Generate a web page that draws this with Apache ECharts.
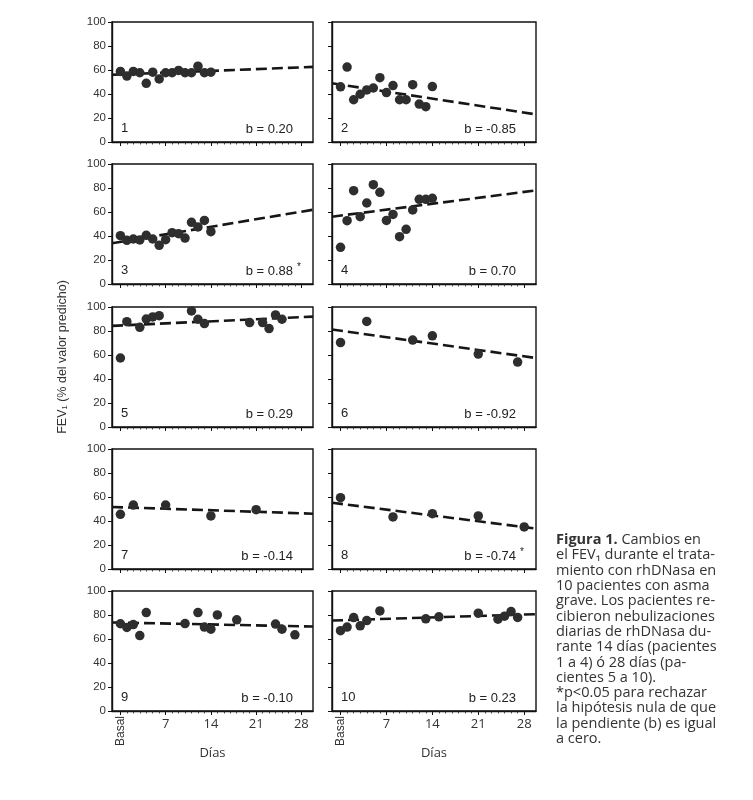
<!DOCTYPE html>
<html>
<head>
<meta charset="utf-8">
<script src="https://cdn.jsdelivr.net/npm/echarts@6/dist/echarts.min.js"></script>
<style>
html,body{margin:0;padding:0;background:#fff;}
#chart{width:753px;height:800px;}
</style>
</head>
<body>
<div id="chart"></div>
<script>
// ---------- data ----------
const panelNames = ['1','2','3','4','5','6','7','8','9','10'];
const days1 = [0,1,2,3,4,5,6,7,8,9,10,11,12,13,14];
const vals1 = [58.8,54.9,58.8,57.7,48.9,58.2,52.5,57.7,57.7,59.6,57.7,57.7,63.2,57.7,58.2];
const days2 = [0,1,2,3,4,5,6,7,8,9,10,11,12,13,14];
const vals2 = [46,62.4,35.2,39.8,43.4,45,53.6,41.2,47,35.2,35.2,47.8,31.6,29.4,46.2];
const days3 = [0,1,2,3,4,5,6,7,8,9,10,11,12,13,14];
const vals3 = [40.3,36.4,37.5,36.7,40.6,37.5,32.2,36.9,42.8,41.9,38.3,51.4,47.5,53,43.6];
const days4 = [0,1,2,3,4,5,6,7,8,9,10,11,12,13,14];
const vals4 = [30.6,52.8,77.8,56.1,67.5,82.8,76.4,53,58,39.4,45.6,61.7,70.6,70.6,71.4];
const days5 = [0,1,3,4,5,6,11,12,13,20,22,23,24,25];
const vals5 = [57.5,87.8,83.1,90,91.7,92.8,96.7,89.8,86.2,87,87,82,93.4,89.8];
const days6 = [0,4,11,14,21,27];
const vals6 = [70.4,88,72.4,76,60.8,54.1];
const days7 = [0,2,7,14,21];
const vals7 = [45.6,53.3,53.3,44.2,49.4];
const days8 = [0,8,14,21,28];
const vals8 = [59.4,43.4,46.1,44.2,35.1];
const days9 = [0,1,2,3,4,10,12,13,14,15,18,24,25,27];
const vals9 = [72.7,69.6,72,62.9,82,72.9,82,69.9,68.2,80.1,76,72.4,68.2,63.5];
const days10 = [0,1,2,3,4,6,13,15,21,24,25,26,27];
const vals10 = [66.9,69.9,77.9,71,75.4,83.4,76.8,78.5,81.5,76.5,79,82.9,78];

// dashed regression lines: value read at the left (XMIN) and right (XMAX) edge of each panel
const XMIN = -1.3, XMAX = 29.8;
const trendStart = [56,48.9,33.9,56.1,84.3,81.2,51.7,55.2,73.8,75.4];
const trendEnd   = [62.6,23,61.9,78,92,57.5,46.1,33.7,70.4,80.7];
const slopeLabels = ['b = 0.20','b = -0.85','b = 0.88','b = 0.70','b = 0.29','b = -0.92','b = -0.14','b = -0.74','b = -0.10','b = 0.23'];
const significant = [false,false,true,false,false,false,false,true,false,false];

const yTicks = [0,20,40,60,80,100];
const xMajorTicks = [0,7,14,21,28];
const xTickLabels = ['Basal','7','14','21','28'];
const xAxisTitle = 'Días';
const yAxisTitle = 'FEV₁ (% del valor predicho)';
const captionLines = [
 '{b|Figura 1.} Cambios en',
 'el FEV₁ durante el trata-',
 'miento con rhDNasa en',
 '10 pacientes con asma',
 'grave. Los pacientes re-',
 'cibieron nebulizaciones',
 'diarias de rhDNasa du-',
 'rante 14 días (pacientes',
 '1 a 4) ó 28 días (pa-',
 'cientes 5 a 10).',
 '*p<0.05 para rechazar',
 'la hipótesis nula de que',
 'la pendiente (b) es igual',
 'a cero.'
];

const allDays = [days1,days2,days3,days4,days5,days6,days7,days8,days9,days10];
const allVals = [vals1,vals2,vals3,vals4,vals5,vals6,vals7,vals8,vals9,vals10];

// ---------- layout ----------
const colLeft = [112, 332];
const colWidth = [201, 204];
const rowTop = [22, 164, 307, 449, 591];
const panelH = 120;
const minorTicks = [];
for (let d = 1; d < 28; d++) if (d % 7 !== 0) minorTicks.push(d);

const grids = [], xAxes = [], yAxes = [], series = [], graphics = [];
const SANS = '"Liberation Sans", Arial, sans-serif';
const HUM = '"Open Sans", "Noto Sans", sans-serif';

for (let i = 0; i < 10; i++) {
  const col = i % 2, row = Math.floor(i / 2);
  const bottomRow = row === 4;
  const L = colLeft[col], W = colWidth[col], T = rowTop[row];
  grids.push({left: L, top: T, width: W, height: panelH, show: true,
    borderColor: '#111', borderWidth: 1.4, backgroundColor: 'transparent'});
  xAxes.push({
    type: 'value', gridIndex: i, min: XMIN, max: XMAX, position: 'bottom',
    axisLine: {show: true, onZero: false, lineStyle: {color: '#111', width: 1.4}},
    axisTick: {show: true, customValues: xMajorTicks, length: 4, lineStyle: {color: '#111', width: 1}},
    axisLabel: {show: bottomRow, customValues: xMajorTicks.slice(1),
      formatter: v => xTickLabels[xMajorTicks.indexOf(v)],
      fontFamily: HUM, fontSize: 13, color: '#333', margin: 7},
    splitLine: {show: false},
    name: bottomRow ? xAxisTitle : '', nameLocation: 'middle', nameGap: 36,
    nameTextStyle: {fontFamily: HUM, fontSize: 13, color: '#333'}
  });
  xAxes.push({
    type: 'value', gridIndex: i, min: XMIN, max: XMAX, position: 'bottom',
    axisLine: {show: false, onZero: false},
    axisTick: {show: true, customValues: minorTicks, length: 2.5, lineStyle: {color: '#222', width: 0.8}},
    axisLabel: {show: bottomRow, customValues: [0], rotate: 90,
      formatter: v => xTickLabels[xMajorTicks.indexOf(v)],
      fontFamily: SANS, fontSize: 12, color: '#333', margin: 5},
    splitLine: {show: false}
  });
  yAxes.push({
    type: 'value', gridIndex: i, min: 0, max: 100, interval: 20, position: 'left',
    axisLine: {show: true, onZero: false, lineStyle: {color: '#111', width: 1.4}},
    axisTick: {show: true, length: 4, lineStyle: {color: '#111', width: 1}},
    axisLabel: {show: col === 0, fontFamily: SANS, fontSize: 11.5, color: '#333', margin: 6},
    splitLine: {show: false}
  });
  series.push({
    type: 'line', xAxisIndex: 2 * i, yAxisIndex: i, symbol: 'none', silent: true,
    data: [[XMIN, trendStart[i]], [XMAX, trendEnd[i]]],
    lineStyle: {color: '#161616', width: 2.6, type: [11, 5]}, z: 2, animation: false
  });
  series.push({
    type: 'scatter', xAxisIndex: 2 * i, yAxisIndex: i, symbolSize: 9.5,
    data: allDays[i].map((d, k) => [d, allVals[i][k]]),
    itemStyle: {color: '#2e2e2e', opacity: 1}, z: 3, animation: false
  });
  graphics.push({type: 'text', left: L + 9, top: T + 100,
    style: {text: panelNames[i], font: '13px ' + SANS, fill: '#222'}});
  graphics.push({type: 'text', x: L + W - 20, y: T + 107,
    style: {text: slopeLabels[i], font: '13px ' + SANS, fill: '#222', textAlign: 'right', textVerticalAlign: 'middle'}});
  if (significant[i]) {
    graphics.push({type: 'text', x: L + W - 16, y: T + 103,
      style: {text: '*', font: '10px ' + SANS, fill: '#222', textAlign: 'left', textVerticalAlign: 'middle'}});
  }
}

graphics.push({type: 'text', x: 63, y: 357, rotation: Math.PI / 2,
  style: {text: yAxisTitle, font: '12.5px ' + SANS, fill: '#333', textAlign: 'center', textVerticalAlign: 'middle'}});

captionLines.forEach((ln, k) => {
  graphics.push({type: 'text', x: 556, y: 540 + k * 15.3,
    style: {text: ln, font: '14.5px ' + HUM, fill: '#333', textVerticalAlign: 'middle',
      rich: {b: {fontFamily: HUM, fontSize: 14.5, fontWeight: 'bold', fill: '#333'}}}});
});

const chart = echarts.init(document.getElementById('chart'), null, {renderer: 'canvas'});
chart.setOption({
  animation: false,
  backgroundColor: '#fff',
  grid: grids, xAxis: xAxes, yAxis: yAxes, series: series,
  graphic: graphics
});
</script>
</body>
</html>
